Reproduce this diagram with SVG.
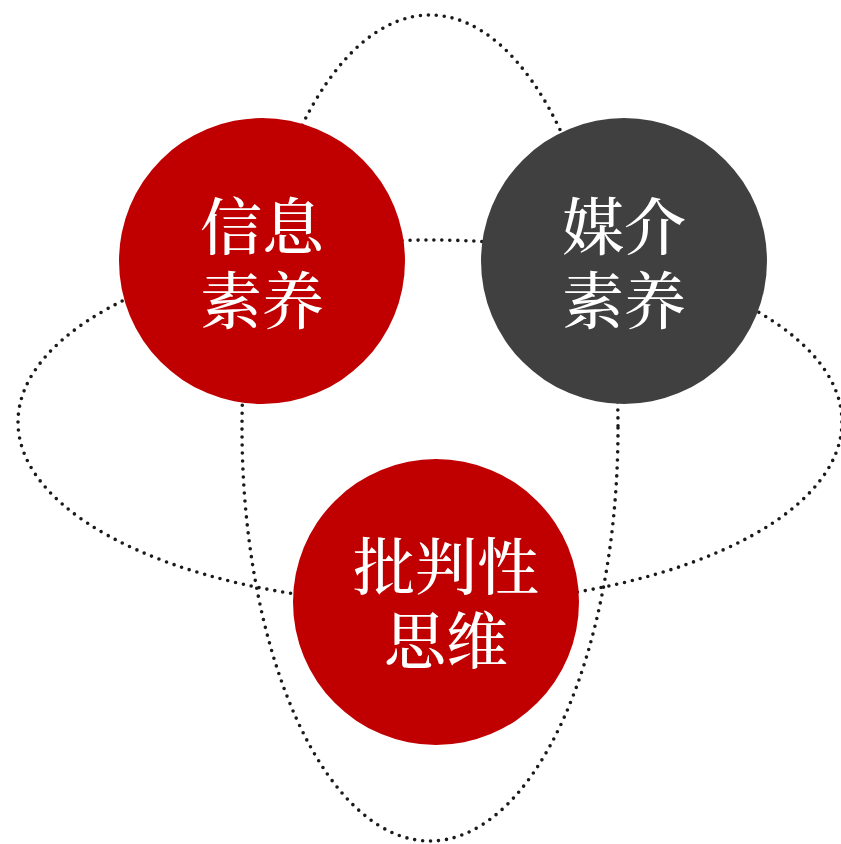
<svg xmlns="http://www.w3.org/2000/svg" width="841" height="844" viewBox="0 0 841 844">
<style>
.orbit{fill:none;stroke:#1a1a1a;stroke-width:3.6;stroke-dasharray:0 8;stroke-linecap:round}
.lbl{fill:#fff;font-family:"Noto Serif CJK SC","Noto Sans CJK SC","Noto Sans",sans-serif;font-size:62px;font-weight:500;text-anchor:middle}
</style>
<rect width="841" height="844" fill="#fff"/>
<g id="connectors">
<ellipse class="orbit" cx="430" cy="428" rx="188" ry="413"/>
<ellipse class="orbit" cx="430" cy="422" rx="412" ry="182"/>
</g>
<g id="info">
<circle cx="262" cy="261" r="143" fill="#C00000"/>
<text class="lbl" x="262" y="250">信息<tspan x="262" dy="74">素养</tspan></text>
</g>
<g id="media">
<circle cx="624" cy="261" r="143" fill="#404040"/>
<text class="lbl" x="624" y="250">媒介<tspan x="624" dy="74">素养</tspan></text>
</g>
<g id="critical">
<circle cx="436" cy="602" r="143" fill="#C00000"/>
<text class="lbl" x="446" y="590">批判性<tspan x="446" dy="74">思维</tspan></text>
</g>
</svg>
